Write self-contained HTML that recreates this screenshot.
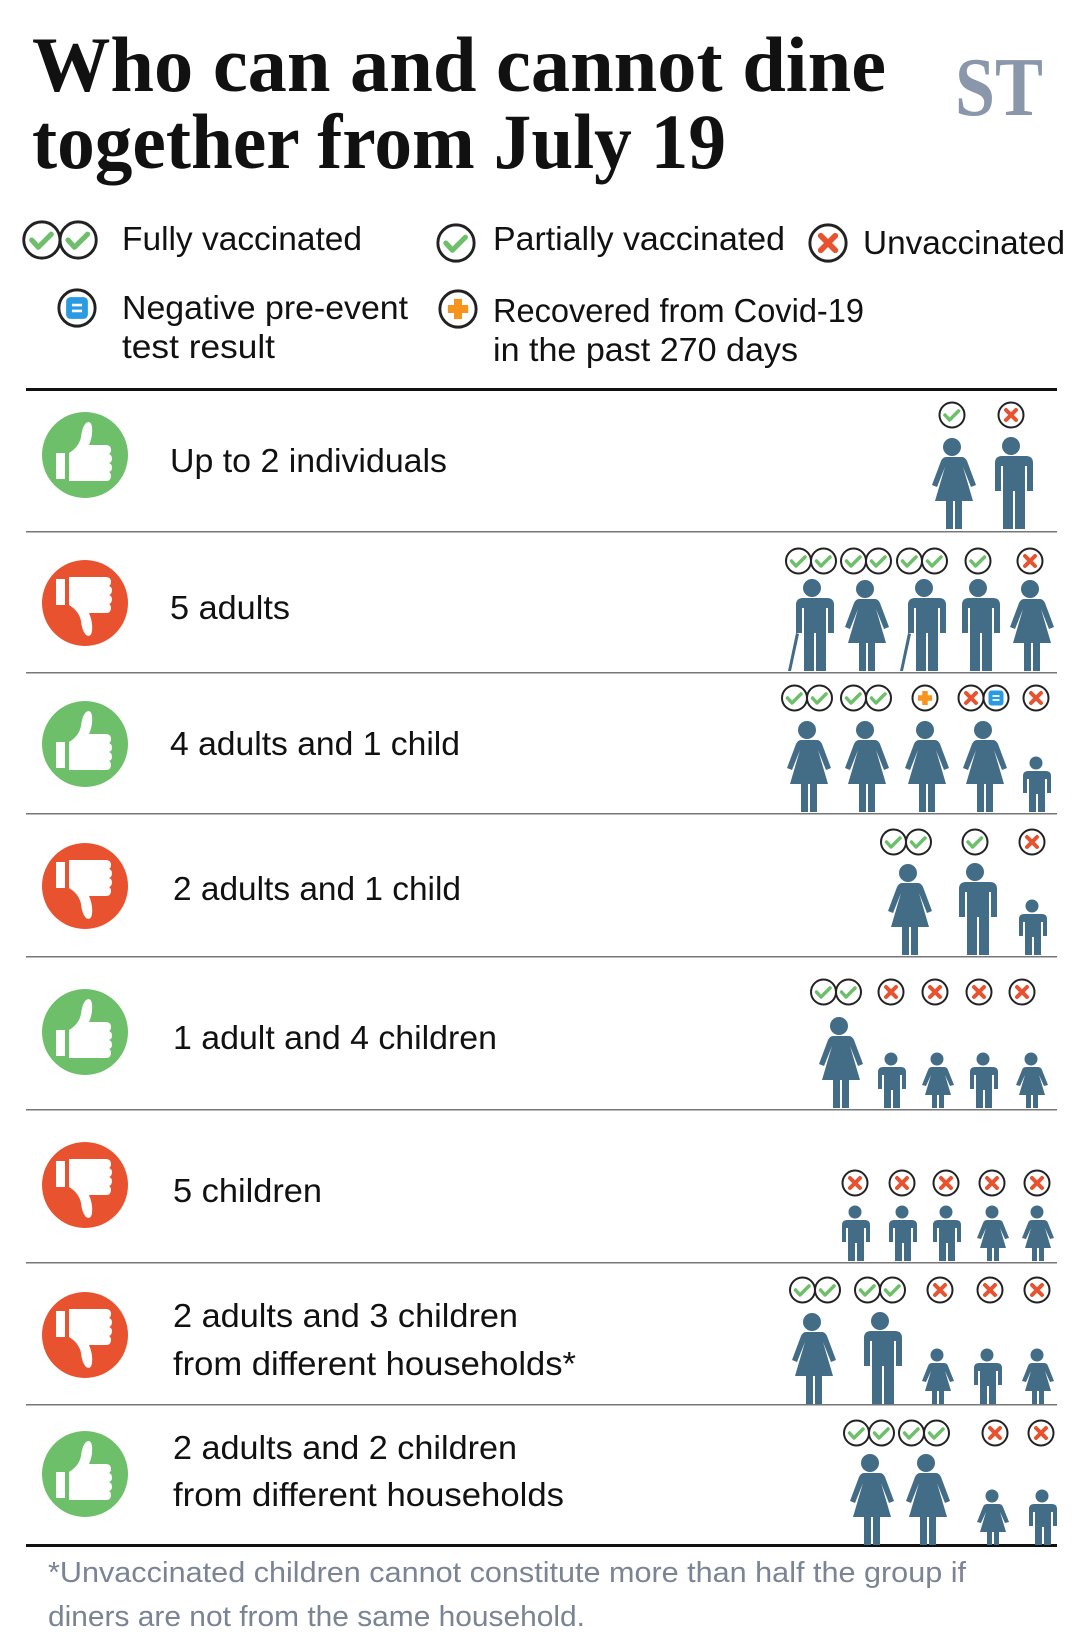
<!DOCTYPE html>
<html><head><meta charset="utf-8"><style>html,body{margin:0;padding:0;background:#fff}svg{display:block}</style></head>
<body>
<svg width="1080" height="1650" viewBox="0 0 1080 1650" xmlns="http://www.w3.org/2000/svg">
<defs>
<g id="man" fill="#436c86">
<circle cx="0" cy="-83" r="9"/>
<path d="M-15,-73 h30 q7,0 7,7 v28 h-6 v-25 h-2 v63 h-10 v-38 h-2 v38 h-10 v-63 h-2 v25 h-6 v-28 q0,-7 7,-7z"/>
</g>
<g id="manc" fill="#436c86">
<use href="#man"/>
<path d="M-16,-38 l3,1 l-8,37 l-3,0z"/>
</g>
<g id="woman" fill="#436c86">
<circle cx="0" cy="-82" r="9"/>
<path d="M-10,-72 h20 q3,0 5,4 l9,24 l-5,2 l-8,-20 l10,34 h-11 v28 h-7 v-28 h-2 v28 h-7 v-28 h-11 l10,-34 l-8,20 l-5,-2 l9,-24 q2,-4 5,-4z"/>
</g>
<g id="child" fill="#436c86"><circle cx="0" cy="-49" r="6.5"/>
<path d="M-10,-41 h20 q5,0 5,5 v17 h-4 v-14 h-2 v33 h-7 v-18 h-2 v18 h-7 v-33 h-2 v14 h-4 v-17 q0,-5 5,-5z"/></g>
<g id="girl" fill="#436c86"><circle cx="0" cy="-49" r="6.5"/>
<path d="M-7,-41 h14 q3,0 4,3 l6,15 l-4,1 l-5,-11 l6,20 h-7 v13 h-5 v-13 h-2 v13 h-5 v-13 h-7 l6,-20 l-5,11 l-4,-1 l6,-15 q1,-3 4,-3z"/></g>
<g id="ok"><circle r="12.5" fill="#fff" stroke="#222" stroke-width="2"/><path d="M-7,0 l4.5,5 l9,-9" fill="none" stroke="#6dbf6a" stroke-width="3.5" stroke-linecap="round" stroke-linejoin="round"/></g>
<g id="ok2"><use href="#ok" x="-12.5"/><use href="#ok" x="12.5"/></g>
<g id="no"><circle r="12.5" fill="#fff" stroke="#222" stroke-width="2"/><path d="M-5,-5 L5,5 M5,-5 L-5,5" stroke="#e9522f" stroke-width="4" stroke-linecap="round"/></g>
<g id="rec"><circle r="12.5" fill="#fff" stroke="#222" stroke-width="2"/><path d="M0,-7 V7 M-7,0 H7" stroke="#f7941d" stroke-width="5.5"/></g>
<g id="neg"><circle r="12.5" fill="#fff" stroke="#222" stroke-width="2"/><rect x="-7.5" y="-7.5" width="15" height="15" rx="3" fill="#2a9be0"/><path d="M-3.5,-2 h7 M-3.5,2 h7" stroke="#fff" stroke-width="1.8"/></g>
<g id="up"><circle r="43" fill="#6dbf6a"/>
<g fill="#fff"><rect x="-29" y="-2" width="9" height="26"/><path d="M-16,-2 q10,-6 12,-16 q1,-10 5,-14 q5,-3 6,4 q1,9 -3,18 h17 q5,0 5,5 q0,3 -2,4 q3,1 3,5 q0,3 -3,4 q3,1 3,5 q0,3 -3,4 q2,1 2,4 q0,5 -5,5 h-37z"/></g></g>
<g id="down"><circle r="43" fill="#e9522f"/>
<g fill="#fff" transform="scale(1,-1)"><rect x="-29" y="-2" width="9" height="26"/><path d="M-16,-2 q10,-6 12,-16 q1,-10 5,-14 q5,-3 6,4 q1,9 -3,18 h17 q5,0 5,5 q0,3 -2,4 q3,1 3,5 q0,3 -3,4 q3,1 3,5 q0,3 -3,4 q2,1 2,4 q0,5 -5,5 h-37z"/></g></g>
</defs>

<g font-family="Liberation Serif, serif" font-weight="bold" fill="#111" font-size="78">
<text x="32" y="91" textLength="854" lengthAdjust="spacingAndGlyphs">Who can and cannot dine</text>
<text x="32" y="168" textLength="694" lengthAdjust="spacingAndGlyphs">together from July 19</text>
</g>
<text x="955" y="115" font-family="Liberation Serif, serif" font-weight="bold" font-size="84" fill="#8a97ab" textLength="88" lengthAdjust="spacingAndGlyphs">ST</text>

<g font-family="Liberation Sans, sans-serif" font-size="33" fill="#111">
<text x="122" y="250" textLength="240" lengthAdjust="spacingAndGlyphs">Fully vaccinated</text>
<text x="493" y="250" textLength="292" lengthAdjust="spacingAndGlyphs">Partially vaccinated</text>
<text x="863" y="254" textLength="202" lengthAdjust="spacingAndGlyphs">Unvaccinated</text>
<text x="122" y="319" textLength="286" lengthAdjust="spacingAndGlyphs">Negative pre-event</text>
<text x="122" y="358" textLength="153" lengthAdjust="spacingAndGlyphs">test result</text>
<text x="493" y="322" textLength="371" lengthAdjust="spacingAndGlyphs">Recovered from Covid-19</text>
<text x="493" y="361" textLength="305" lengthAdjust="spacingAndGlyphs">in the past 270 days</text>
</g>
<use href="#ok2" transform="translate(60,240) scale(1.45)"/>
<use href="#ok" transform="translate(456,243) scale(1.45)"/>
<use href="#no" transform="translate(828,243) scale(1.45)"/>
<use href="#neg" transform="translate(77,308) scale(1.45)"/>
<use href="#rec" transform="translate(458,309) scale(1.45)"/>

<rect x="26" y="388" width="1031" height="3" fill="#111"/>
<g fill="#777">
<rect x="26" y="531" width="1031" height="1.5"/>
<rect x="26" y="672" width="1031" height="1.5"/>
<rect x="26" y="813" width="1031" height="1.5"/>
<rect x="26" y="956" width="1031" height="1.5"/>
<rect x="26" y="1109" width="1031" height="1.5"/>
<rect x="26" y="1262" width="1031" height="1.5"/>
<rect x="26" y="1404" width="1031" height="1.5"/>
</g>
<rect x="26" y="1544" width="1031" height="3" fill="#111"/>

<use href="#up" x="85" y="455"/>
<use href="#down" x="85" y="603"/>
<use href="#up" x="85" y="744"/>
<use href="#down" x="85" y="886"/>
<use href="#up" x="85" y="1032"/>
<use href="#down" x="85" y="1185"/>
<use href="#down" x="85" y="1335"/>
<use href="#up" x="85" y="1474"/>

<g font-family="Liberation Sans, sans-serif" font-size="33" fill="#111">
<text x="170" y="472" textLength="277" lengthAdjust="spacingAndGlyphs">Up to 2 individuals</text>
<text x="170" y="619" textLength="120" lengthAdjust="spacingAndGlyphs">5 adults</text>
<text x="170" y="755" textLength="290" lengthAdjust="spacingAndGlyphs">4 adults and 1 child</text>
<text x="173" y="900" textLength="288" lengthAdjust="spacingAndGlyphs">2 adults and 1 child</text>
<text x="173" y="1049" textLength="324" lengthAdjust="spacingAndGlyphs">1 adult and 4 children</text>
<text x="173" y="1202" textLength="149" lengthAdjust="spacingAndGlyphs">5 children</text>
<text x="173" y="1327" textLength="345" lengthAdjust="spacingAndGlyphs">2 adults and 3 children</text>
<text x="173" y="1375" textLength="403" lengthAdjust="spacingAndGlyphs">from different households*</text>
<text x="173" y="1459" textLength="344" lengthAdjust="spacingAndGlyphs">2 adults and 2 children</text>
<text x="173" y="1506" textLength="391" lengthAdjust="spacingAndGlyphs">from different households</text>
</g>

<!-- row 1 -->
<use href="#ok" x="952" y="415"/><use href="#no" x="1011" y="415"/>
<use href="#woman" x="952" y="529"/><use href="#man" x="1011" y="529"/>
<!-- row 2 -->
<use href="#ok2" x="811" y="561"/><use href="#ok2" x="866" y="561"/><use href="#ok2" x="922" y="561"/><use href="#ok" x="978" y="561"/><use href="#no" x="1030" y="561"/>
<use href="#manc" x="812" y="671"/><use href="#woman" x="865" y="671"/><use href="#manc" x="924" y="671"/><use href="#man" x="978" y="671"/><use href="#woman" x="1030" y="671"/>
<!-- row 3 -->
<use href="#ok2" x="807" y="698"/><use href="#ok2" x="866" y="698"/><use href="#rec" x="925" y="698"/>
<use href="#no" x="971" y="698"/><use href="#neg" x="996" y="698"/><use href="#no" x="1036" y="698"/>
<use href="#woman" x="807" y="812"/><use href="#woman" x="865" y="812"/><use href="#woman" x="925" y="812"/><use href="#woman" x="983" y="812"/><use href="#child" x="1036" y="812"/>
<!-- row 4 -->
<use href="#ok2" x="906" y="842"/><use href="#ok" x="975" y="842"/><use href="#no" x="1032" y="842"/>
<use href="#woman" x="908" y="955"/><use href="#man" x="975" y="955"/><use href="#child" x="1032" y="955"/>
<!-- row 5 -->
<use href="#ok2" x="836" y="992"/><use href="#no" x="891" y="992"/><use href="#no" x="935" y="992"/><use href="#no" x="979" y="992"/><use href="#no" x="1022" y="992"/>
<use href="#woman" x="839" y="1108"/><use href="#child" x="891" y="1108"/><use href="#girl" x="937" y="1108"/><use href="#child" x="983" y="1108"/><use href="#girl" x="1031" y="1108"/>
<!-- row 6 -->
<use href="#no" x="855" y="1183"/><use href="#no" x="902" y="1183"/><use href="#no" x="946" y="1183"/><use href="#no" x="992" y="1183"/><use href="#no" x="1037" y="1183"/>
<use href="#child" x="855" y="1261"/><use href="#child" x="902" y="1261"/><use href="#child" x="946" y="1261"/><use href="#girl" x="992" y="1261"/><use href="#girl" x="1037" y="1261"/>
<!-- row 7 -->
<use href="#ok2" x="815" y="1290"/><use href="#ok2" x="880" y="1290"/><use href="#no" x="940" y="1290"/><use href="#no" x="990" y="1290"/><use href="#no" x="1037" y="1290"/>
<use href="#woman" x="812" y="1404"/><use href="#man" x="880" y="1404"/><use href="#girl" x="937" y="1404"/><use href="#child" x="987" y="1404"/><use href="#girl" x="1037" y="1404"/>
<!-- row 8 -->
<use href="#ok2" x="869" y="1433"/><use href="#ok2" x="924" y="1433"/><use href="#no" x="995" y="1433"/><use href="#no" x="1041" y="1433"/>
<use href="#woman" x="870" y="1545"/><use href="#woman" x="926" y="1545"/><use href="#girl" x="992" y="1545"/><use href="#child" x="1042" y="1545"/>

<g font-family="Liberation Sans, sans-serif" font-size="29" fill="#7a8494">
<text x="48" y="1582" textLength="918" lengthAdjust="spacingAndGlyphs">*Unvaccinated children cannot constitute more than half the group if</text>
<text x="48" y="1626" textLength="537" lengthAdjust="spacingAndGlyphs">diners are not from the same household.</text>
</g>
</svg>
</body></html>
